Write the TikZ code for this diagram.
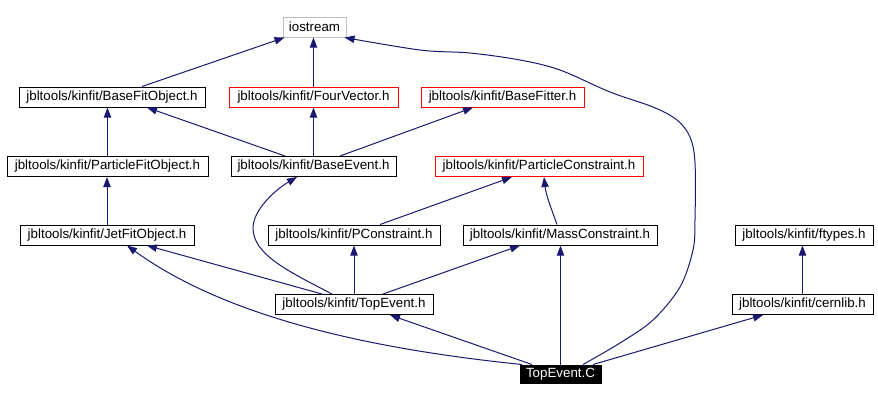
\documentclass[tikz,border=0pt]{standalone}
\usepackage{fontspec}
\setmainfont{Liberation Sans}
\usetikzlibrary{arrows.meta,calc}
\definecolor{edgecol}{RGB}{25,25,112}
\definecolor{graybox}{RGB}{191,191,191}
\begin{document}
\begin{tikzpicture}[x=0.75pt,y=-0.75pt,
  box/.style={draw=black,line width=0.75pt,rectangle,inner sep=0pt,minimum height=15pt,font=\fontsize{10}{12}\selectfont,text=black},
  redbox/.style={box,draw=red},
  greybox/.style={box,draw=graybox},
  mainbox/.style={box,draw=black,fill=black,text=white,minimum height=13.5pt},
  dep/.style={draw=edgecol,line width=0.75pt,-{Triangle[length=7.5pt,width=5.5pt]},color=edgecol}]
\useasboundingbox (0,0) rectangle (878,401);
\node[greybox,minimum width=63*0.75pt] (IO) at (314.5,27) {iostream};
\node[box,minimum width=186*0.75pt] (BFO) at (112,97) {jbltools/kinfit/BaseFitObject.h};
\node[redbox,minimum width=169*0.75pt] (FV) at (313.5,97) {jbltools/kinfit/FourVector.h};
\node[redbox,minimum width=163*0.75pt] (BF) at (502.5,97) {jbltools/kinfit/BaseFitter.h};
\node[box,minimum width=201*0.75pt] (PFO) at (107.5,166.5) {jbltools/kinfit/ParticleFitObject.h};
\node[box,minimum width=165*0.75pt] (BE) at (313.5,166.5) {jbltools/kinfit/BaseEvent.h};
\node[redbox,minimum width=208*0.75pt] (PC) at (539,166.5) {jbltools/kinfit/ParticleConstraint.h};
\node[box,minimum width=174*0.75pt] (JFO) at (107,235) {jbltools/kinfit/JetFitObject.h};
\node[box,minimum width=172*0.75pt] (PCo) at (354,235) {jbltools/kinfit/PConstraint.h};
\node[box,minimum width=194*0.75pt] (MC) at (560,235) {jbltools/kinfit/MassConstraint.h};
\node[box,minimum width=138*0.75pt] (FT) at (804,235) {jbltools/kinfit/ftypes.h};
\node[box,minimum width=158*0.75pt] (TEh) at (354,304.5) {jbltools/kinfit/TopEvent.h};
\node[box,minimum width=141*0.75pt] (CL) at (802.5,304.5) {jbltools/kinfit/cernlib.h};
\node[mainbox,minimum width=81*0.75pt] (TEC) at (560.5,374) {TopEvent.C};
% edges
\draw[dep] ($(BFO.north)+(30,0)$) -- ($(IO.south)+(-30,0)$);
\draw[dep] (FV.north) -- (FV.north |- IO.south);
\draw[dep] plot[smooth,tension=0.55] coordinates {($(TEC.north)+(22.5,0)$) (620,343) (653,320) (680,287) (693,250) (695,220) (695,163) (690,137) (677,120) (653,107) (610,92) (560,70) (520,60) (470,53) (420,50) ($(IO.south east)+(-2,0)$)};
\draw[dep] (PFO.north) -- (PFO.north |- BFO.south);
\draw[dep] ($(BE.north)+(-28.5,0)$) -- ($(BFO.south)+(35,0)$);
\draw[dep] (BE.north) -- (BE.north |- FV.south);
\draw[dep] ($(BE.north)+(26.5,0)$) -- ($(BF.south)+(-29.5,0)$);
\draw[dep] (JFO.north) -- (JFO.north |- PFO.south);
\draw[dep] ($(TEh.north)+(-22,0)$) .. controls (290,272) and (253,255) .. (253,228)
  .. controls (253,210) and (275,190) .. ($(BE.south)+(-16.5,0)$);
\draw[dep] ($(PCo.north)+(26,0)$) -- ($(PC.south)+(-27,0)$);
\draw[dep] ($(MC.north)+(-3,0)$) .. controls (550,205) and (546,195) .. ($(PC.south)+(5,0)$);
\draw[dep] ($(TEh.north)+(-32,0)$) -- ($(JFO.south)+(40,0)$);
\draw[dep] ($(TEC.north)+(-38.5,0)$) .. controls (380,350) and (230,320) .. ($(JFO.south)+(20,0)$);
\draw[dep] (TEh.north) -- (TEh.north |- PCo.south);
\draw[dep] ($(TEh.north)+(29,0)$) -- ($(MC.south)+(-40,0)$);
\draw[dep] ($(TEC.north)+(-28.5,0)$) -- ($(TEh.south)+(36,0)$);
\draw[dep] (TEC.north) -- (TEC.north |- MC.south);
\draw[dep] ($(TEC.north)+(32.5,0)$) -- ($(CL.south)+(-39.5,0)$);
\draw[dep] (CL.north) -- (CL.north |- FT.south);
\end{tikzpicture}
\end{document}
